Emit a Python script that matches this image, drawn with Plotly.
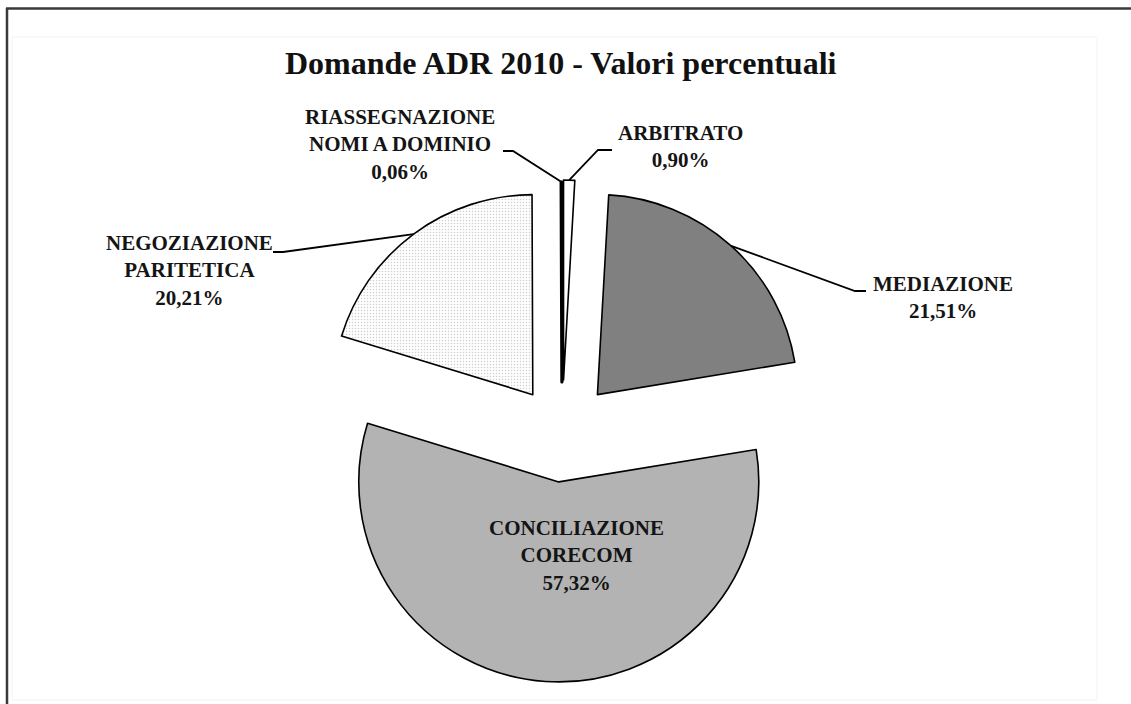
import plotly.graph_objects as go
import math

# Data: ADR requests 2010, percentage shares (clockwise from 12 o'clock)
labels = ["ARBITRATO", "MEDIAZIONE", "CONCILIAZIONE<br>CORECOM",
          "NEGOZIAZIONE<br>PARITETICA", "RIASSEGNAZIONE<br>NOMI A DOMINIO"]
shares = [0.90, 21.51, 57.32, 20.21, 0.06]
pulls = [0.27, 0.265, 0.24, 0.245, 0.26]
colors = ["#ffffff", "#808080", "#b3b3b3", "#e9e9e9", "#000000"]
edge_widths = [1.6, 1.6, 1.6, 1.6, 3.2]
title_text = "Domande ADR 2010 - Valori percentuali"

W, H = 1131, 704
CX, CY, R = 562, 434, 200          # pie centre and radius in pixels


def px(x):
    return x / W


def py(y):
    return 1 - y / H


half = R * (1 + max(pulls))
domain_x = [px(CX - half), px(CX + half)]
domain_y = [py(CY + half), py(CY - half)]

fig = go.Figure(go.Pie(
    labels=labels,
    values=shares,
    sort=False,
    direction="clockwise",
    rotation=0,
    pull=pulls,
    textinfo="none",
    hoverinfo="skip",
    showlegend=False,
    domain=dict(x=domain_x, y=domain_y),
    marker=dict(
        colors=colors,
        line=dict(color="#000000", width=edge_widths),
        pattern=dict(shape=["", "", "", ".", ""], fgcolor="#cfcfcf",
                     size=3, solidity=0.2),
    ),
))


def pct(v):
    return f"{v:.2f}".replace(".", ",") + "%"


# point on the outer arc at the middle of each (pulled) slice
total = sum(shares)
mid_pts = []
acc = 0.0
for v, p in zip(shares, pulls):
    theta = math.radians(360 * (acc + v / 2) / total)
    acc += v
    mid_pts.append((CX + (1 + p) * R * math.sin(theta),
                    CY - (1 + p) * R * math.cos(theta)))

label_font = dict(family="Liberation Serif", size=21, color="#141414", weight="bold")

# label centres (pixels)
label_pos = [(680, 147), (943, 297), (576, 555), (189, 270), (400, 145)]
annotations = []
for lab, v, (lx, ly) in zip(labels, shares, label_pos):
    annotations.append(dict(
        x=px(lx), y=py(ly), xref="paper", yref="paper",
        text=f"{lab}<br>{pct(v)}", showarrow=False,
        xanchor="center", yanchor="middle", align="center", font=label_font,
    ))

annotations.append(dict(
    x=px(561), y=py(63), xref="paper", yref="paper", text=title_text,
    showarrow=False, xanchor="center", yanchor="middle",
    font=dict(family="Liberation Serif", size=32, color="#111111", weight="bold"),
))


def path(points):
    d = "M " + " L ".join(f"{px(x):.5f},{py(y):.5f}" for x, y in points)
    return dict(type="path", path=d, xref="paper", yref="paper",
                line=dict(color="#000000", width=1.8))


# leader lines: label hook -> slice arc midpoint
shapes = [
    path([(612, 150), (598, 150), mid_pts[0]]),
    path([(866, 291), (855, 291), mid_pts[1]]),
    path([(273, 252), (283, 252), mid_pts[3]]),
    path([(503, 151), (513, 151), mid_pts[4]]),
    # faint chart-area outline
    dict(type="rect", xref="paper", yref="paper", x0=px(12), x1=px(1097),
         y0=py(700), y1=py(37), line=dict(color="#f3f3f3", width=1)),
    # page frame (top and left)
    dict(type="line", xref="paper", yref="paper", x0=px(6), x1=px(1131),
         y0=py(8.5), y1=py(8.5), line=dict(color="#3a3a3a", width=2.5)),
    dict(type="line", xref="paper", yref="paper", x0=px(7), x1=px(7),
         y0=py(8), y1=py(704), line=dict(color="#3a3a3a", width=2.5)),
]

fig.update_layout(
    width=W, height=H,
    margin=dict(l=0, r=0, t=0, b=0),
    paper_bgcolor="#ffffff", plot_bgcolor="#ffffff",
    annotations=annotations, shapes=shapes,
)

fig.write_html("out.html")
